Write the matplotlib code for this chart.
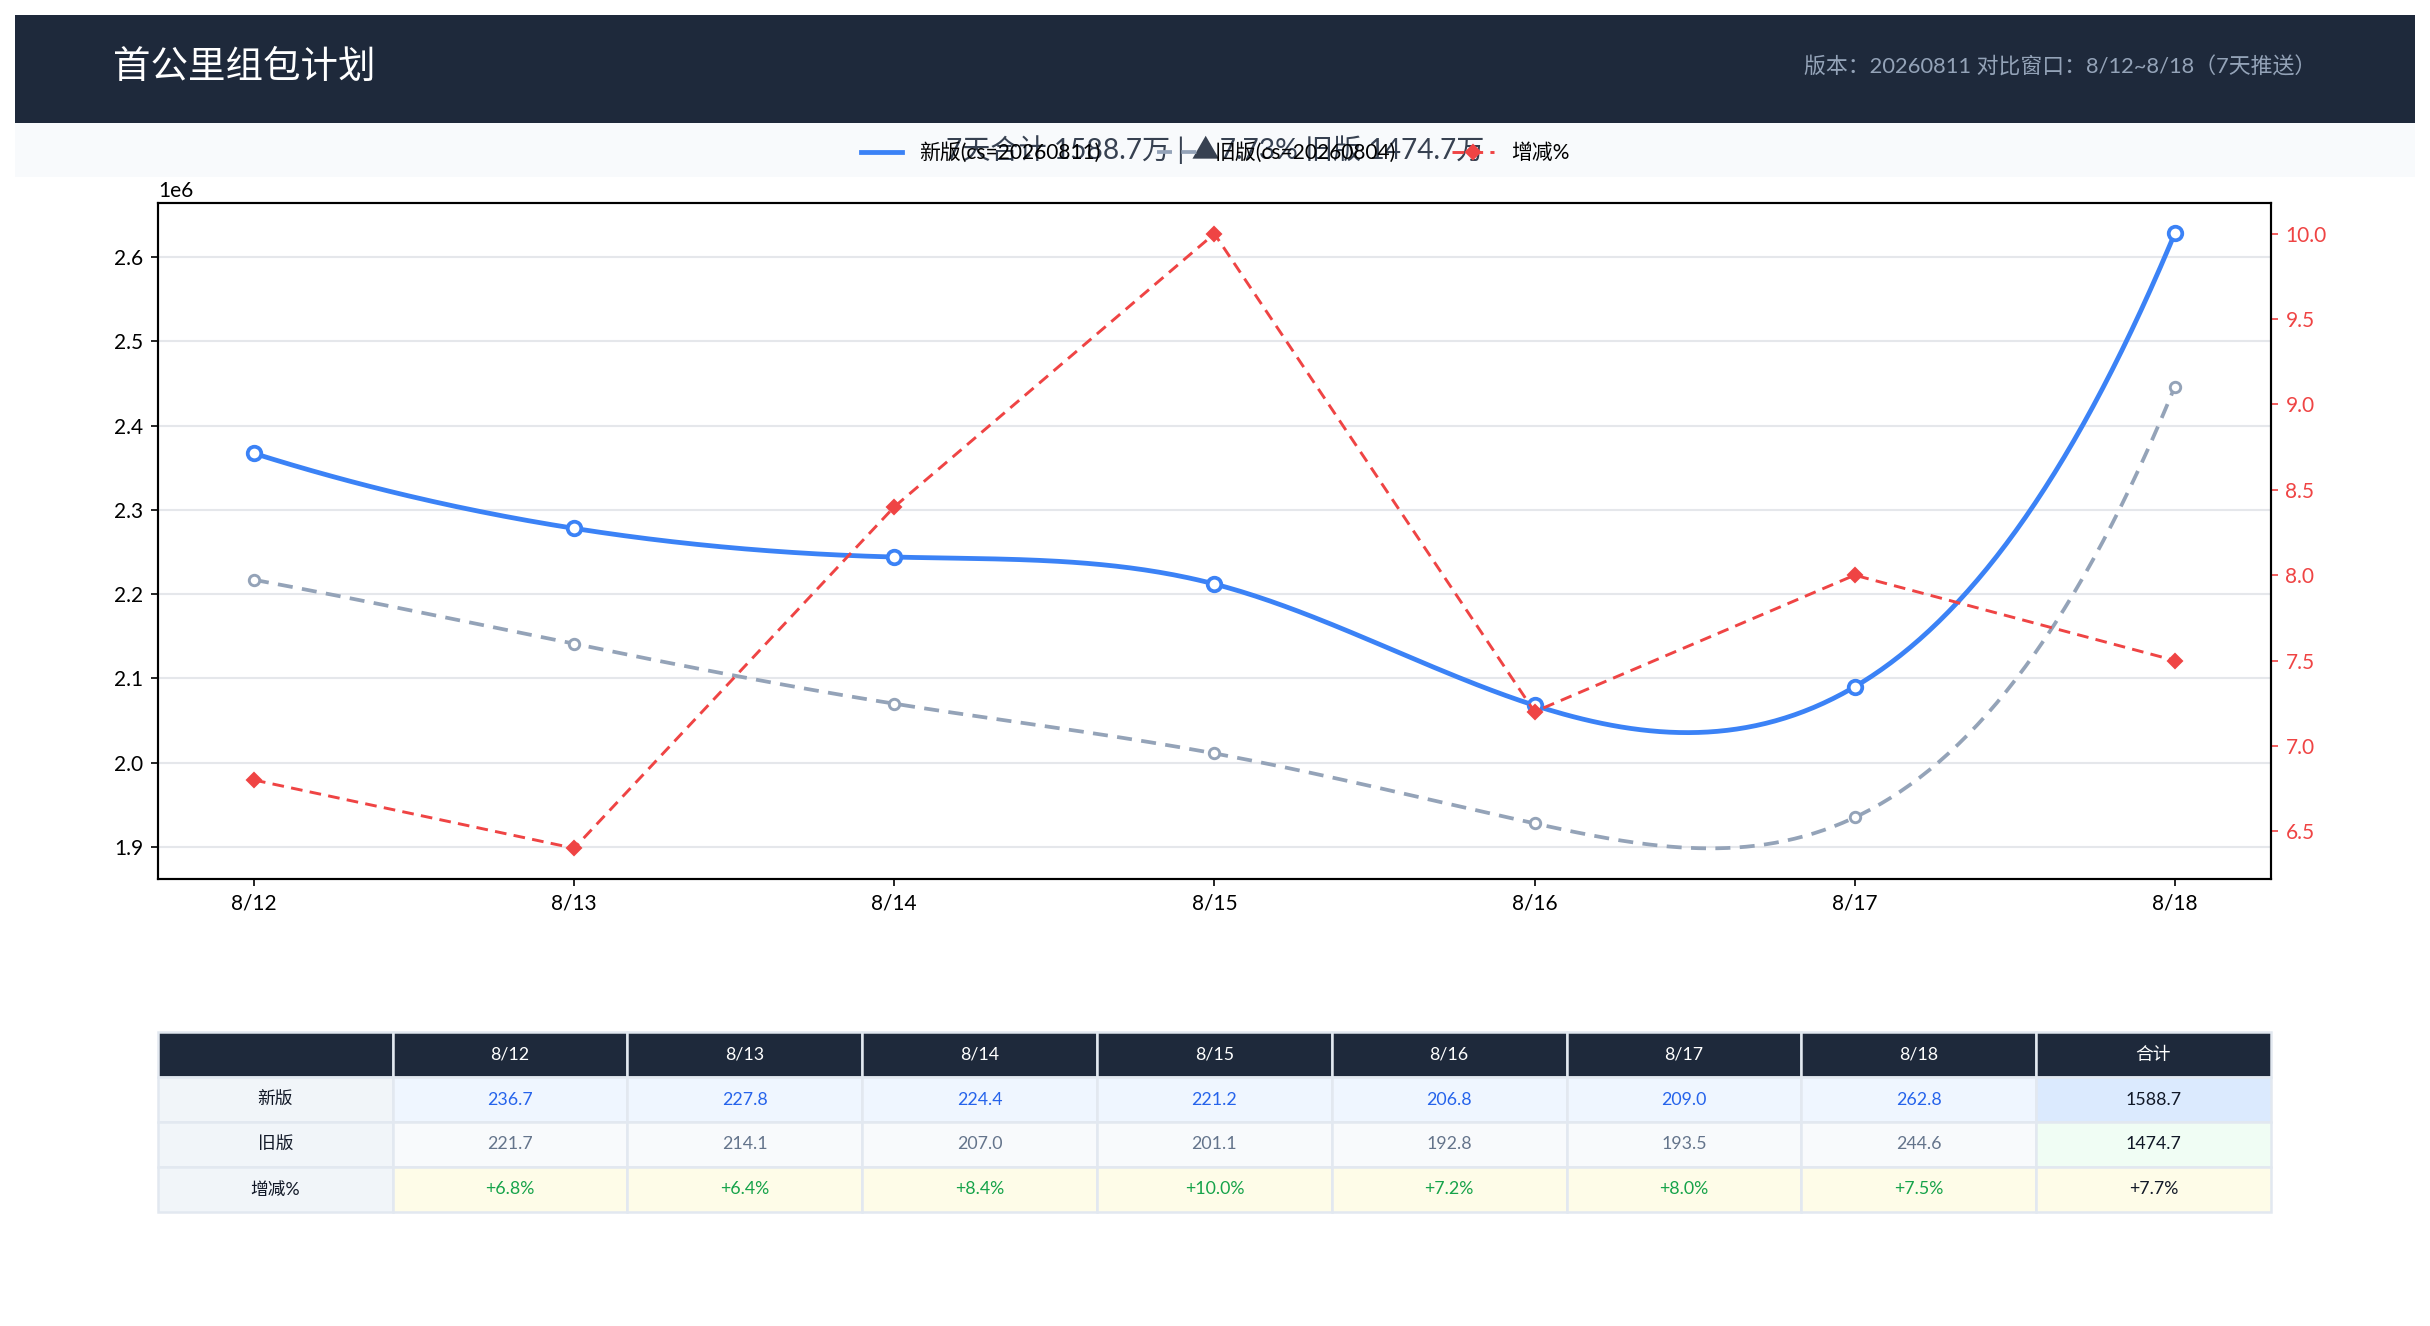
import numpy as np
import matplotlib
matplotlib.use("Agg")
import matplotlib.pyplot as plt
from matplotlib.lines import Line2D
from matplotlib.patches import Rectangle

plt.rcParams['font.family'] = ['Lato', 'Noto Sans CJK SC', 'DejaVu Sans']
plt.rcParams['axes.unicode_minus'] = False

# data (万)
dates = ['8/12', '8/13', '8/14', '8/15', '8/16', '8/17', '8/18']
new_wan = [236.7, 227.8, 224.4, 221.2, 206.8, 209.0, 262.8]
old_wan = [221.7, 214.1, 207.0, 201.1, 192.8, 193.5, 244.6]
pct = [6.8, 6.4, 8.4, 10.0, 7.2, 8.0, 7.5]
total_new = 1588.7
total_old = 1474.7
total_pct = 7.7
total_pct_exact = 7.73

title = '首公里组包计划'
subtitle = '版本：20260811 对比窗口：8/12~8/18（7天推送）'
label_new = '新版(cs=20260811)'
label_old = '旧版(cs=20260804)'
label_pct = '增减%'

BLUE = '#3b82f6'
GRAY = '#94a3b8'
RED = '#ef4444'
DARK = '#1e293b'


def smooth(x, y, num=400):
    # cubic spline, not-a-knot ends
    x = np.asarray(x, float)
    y = np.asarray(y, float)
    n = len(x)
    h = np.diff(x)
    A = np.zeros((n, n))
    b = np.zeros(n)
    A[0, 0], A[0, 1], A[0, 2] = h[1], -(h[0] + h[1]), h[0]
    A[-1, -3], A[-1, -2], A[-1, -1] = h[-1], -(h[-2] + h[-1]), h[-2]
    for i in range(1, n - 1):
        A[i, i - 1] = h[i - 1]
        A[i, i] = 2 * (h[i - 1] + h[i])
        A[i, i + 1] = h[i]
        b[i] = 6 * ((y[i + 1] - y[i]) / h[i] - (y[i] - y[i - 1]) / h[i - 1])
    M = np.linalg.solve(A, b)
    xs = np.linspace(x[0], x[-1], num)
    k = np.clip(np.searchsorted(x, xs) - 1, 0, n - 2)
    hk = h[k]
    a = x[k + 1] - xs
    c = xs - x[k]
    ys = (M[k] * a ** 3 + M[k + 1] * c ** 3) / (6 * hk) \
        + (y[k] / hk - M[k] * hk / 6) * a + (y[k + 1] / hk - M[k + 1] * hk / 6) * c
    return xs, ys


x = np.arange(len(dates))
new_v = np.array(new_wan) * 1e4
old_v = np.array(old_wan) * 1e4

fig = plt.figure(figsize=(16.2, 8.84), dpi=150)

# header bands
fig.patches.append(Rectangle((0.0062, 0.9072), 0.9877, 0.0815, transform=fig.transFigure,
                             facecolor=DARK, edgecolor='none', zorder=0))
fig.patches.append(Rectangle((0.0062, 0.8665), 0.9877, 0.0407, transform=fig.transFigure,
                             facecolor='#f8fafc', edgecolor='none', zorder=0))
fig.text(0.0467, 0.9495, title, color='white', fontsize=18, va='center', ha='left')
fig.text(0.9530, 0.9495, subtitle, color='#94a3b8', fontsize=10.5, va='center', ha='right')

# main chart
ax = fig.add_axes([0.065, 0.3371, 0.8695, 0.5098])
ax.set_axisbelow(True)
ax.yaxis.grid(True, color='#e5e7eb', lw=1.0)
xs, ys = smooth(x, new_v)
ax.plot(xs, ys, color=BLUE, lw=2.3, zorder=4)
ax.plot(x, new_v, ls='none', marker='o', ms=6.5, mfc='white', mec=BLUE, mew=1.8, zorder=5)
xs, ys = smooth(x, old_v)
ax.plot(xs, ys, color=GRAY, lw=1.8, ls=(0, (4, 2.5)), zorder=3)
ax.plot(x, old_v, ls='none', marker='o', ms=5, mfc='white', mec=GRAY, mew=1.4, zorder=3)
ax.set_xticks(x)
ax.set_xticklabels(dates)
ax.set_xlim(-0.3, 6.3)
ax.set_ylim(1.862e6, 2.664e6)
ax.tick_params(labelsize=10)
for s in ax.spines.values():
    s.set_linewidth(1.0)

ax2 = ax.twinx()
ax2.plot(x, pct, color=RED, lw=1.4, ls=(0, (4, 2.5)), marker='D', ms=4.5, mfc=RED, mec=RED, zorder=4)
ax2.set_ylim(6.22, 10.18)
ax2.set_yticks([6.5, 7.0, 7.5, 8.0, 8.5, 9.0, 9.5, 10.0])
ax2.tick_params(axis='y', colors=RED, labelsize=10)
ax2.spines['right'].set_color('black')
for s in ax2.spines.values():
    s.set_linewidth(1.0)

# legend + overlaid summary
handles = [
    Line2D([], [], color=BLUE, lw=2.3),
    Line2D([], [], color=GRAY, lw=1.8, ls=(0, (4, 2.5))),
    Line2D([], [], color=RED, lw=1.4, ls=(0, (4, 2.5)), marker='D', ms=4.5),
]
fig.legend(handles, [label_new, label_old, label_pct], loc='center', bbox_to_anchor=(0.5, 0.885),
           ncol=3, frameon=False, fontsize=10, handlelength=2.0, columnspacing=2.7)
summary = f'7天合计 {total_new:.1f}万 | ▲{total_pct_exact:.2f}% 旧版 {total_old:.1f}万'
fig.text(0.5, 0.887, summary, ha='center', va='center', fontsize=13.5, color='#374151')

# table
tax = fig.add_axes([0.065, 0.086, 0.8695, 0.1357])
tax.axis('off')
cells = [[''] + dates + ['合计'],
         ['新版'] + [f'{v:.1f}' for v in new_wan] + [f'{total_new:.1f}'],
         ['旧版'] + [f'{v:.1f}' for v in old_wan] + [f'{total_old:.1f}'],
         ['增减%'] + [f'+{v:.1f}%' for v in pct] + [f'+{total_pct:.1f}%']]
tb = tax.table(cellText=cells, bbox=[0, 0, 1, 1], cellLoc='center')
tb.auto_set_font_size(False)
row_bg = ['#1e293b', '#eff6ff', '#f8fafc', '#fefce8']
row_fg = ['white', '#2563eb', '#64748b', '#16a34a']
total_bg = ['#1e293b', '#dbeafe', '#f0fdf4', '#fefce8']
for (r, c), cell in tb.get_celld().items():
    cell.set_edgecolor('#e2e8f0')
    cell.set_linewidth(1.2)
    cell.get_text().set_fontsize(8.5)
    if r == 0:
        cell.set_facecolor(DARK)
        cell.get_text().set_color('white')
    elif c == 0:
        cell.set_facecolor('#f1f5f9')
        cell.get_text().set_color('#111827')
    elif c == len(dates) + 1:
        cell.set_facecolor(total_bg[r])
        cell.get_text().set_color('#111827')
    else:
        cell.set_facecolor(row_bg[r])
        cell.get_text().set_color(row_fg[r])

fig.savefig('out.png', dpi=150, facecolor='white')
